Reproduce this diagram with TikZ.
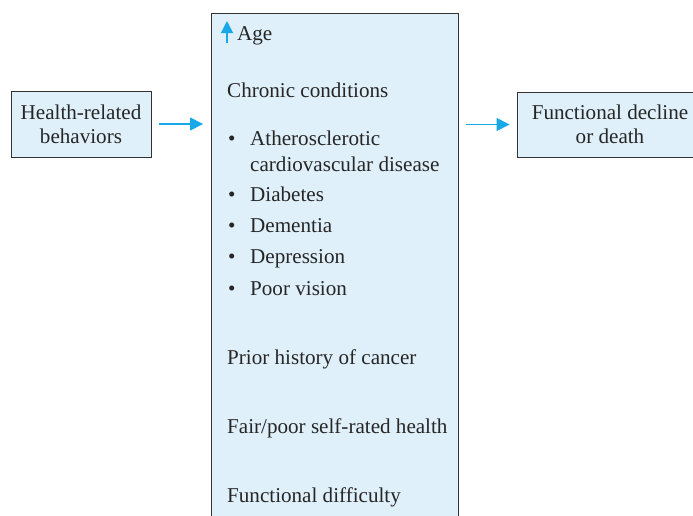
\documentclass[tikz,border=0pt]{standalone}
\usepackage{fontspec}
\setmainfont{Liberation Serif}
\usetikzlibrary{arrows.meta,positioning}
\definecolor{Sky}{HTML}{DFF0FA}
\definecolor{Cyan}{HTML}{1AA9E8}
\definecolor{Edge}{HTML}{333333}

\begin{document}
\begin{tikzpicture}[x=1pt,y=-1pt,
  every node/.style={font=\fontsize{21.1}{24}\selectfont,text=black!85},
  box/.style={draw=Edge,fill=Sky,line width=0.9pt,align=center,inner sep=0pt},
  item/.style={anchor=base west,inner sep=0pt},
  arr/.style={-{Triangle[length=13pt,width=13pt]},Cyan,line width=1.4pt}
]
\clip (0,0) rectangle (693,515);
\node[box,minimum width=247,minimum height=530] (risk) at (335,278) {};
\node[box,minimum width=140,minimum height=66] (beh) at (81,124) {Health-related\\behaviors};
\node[box,minimum width=186,minimum height=65] (out) at (610,124.5) {Functional decline\\or death};
\draw[arr,shorten <=8pt,shorten >=8pt] (beh.east) -- (beh.east -| risk.west);
\draw[arr,shorten <=7pt,shorten >=7pt] (out.west -| risk.east) -- (out.west);

% contents of the middle box
\coordinate (ageLo) at (227,43);
\coordinate (ageHi) at (227,21);
\draw[-{Triangle[length=12pt,width=12pt]},Cyan,line width=1.4pt] (ageLo) -- (ageHi);
\node[item] (age) at (237,40) {Age};
\node[item] (chronic) at (227,97) {Chronic conditions};
\node[item] (b1) at (228,145) {\textbullet};
\node[item] (athero) at (250,145) {Atherosclerotic};
\node[item] (cardio) at (250,171) {cardiovascular disease};
\node[item] (b2) at (228,201) {\textbullet};
\node[item] (diab) at (250,201) {Diabetes};
\node[item] (b3) at (228,232) {\textbullet};
\node[item] (dem) at (250,232) {Dementia};
\node[item] (b4) at (228,263) {\textbullet};
\node[item] (dep) at (250,263) {Depression};
\node[item] (b5) at (228,295) {\textbullet};
\node[item] (vision) at (250,295) {Poor vision};
\node[item] (cancer) at (227,364) {Prior history of cancer};
\node[item] (selfrated) at (227,433) {Fair/poor self-rated health};
\node[item] (difficulty) at (227,502) {Functional difficulty};
\end{tikzpicture}
\end{document}
